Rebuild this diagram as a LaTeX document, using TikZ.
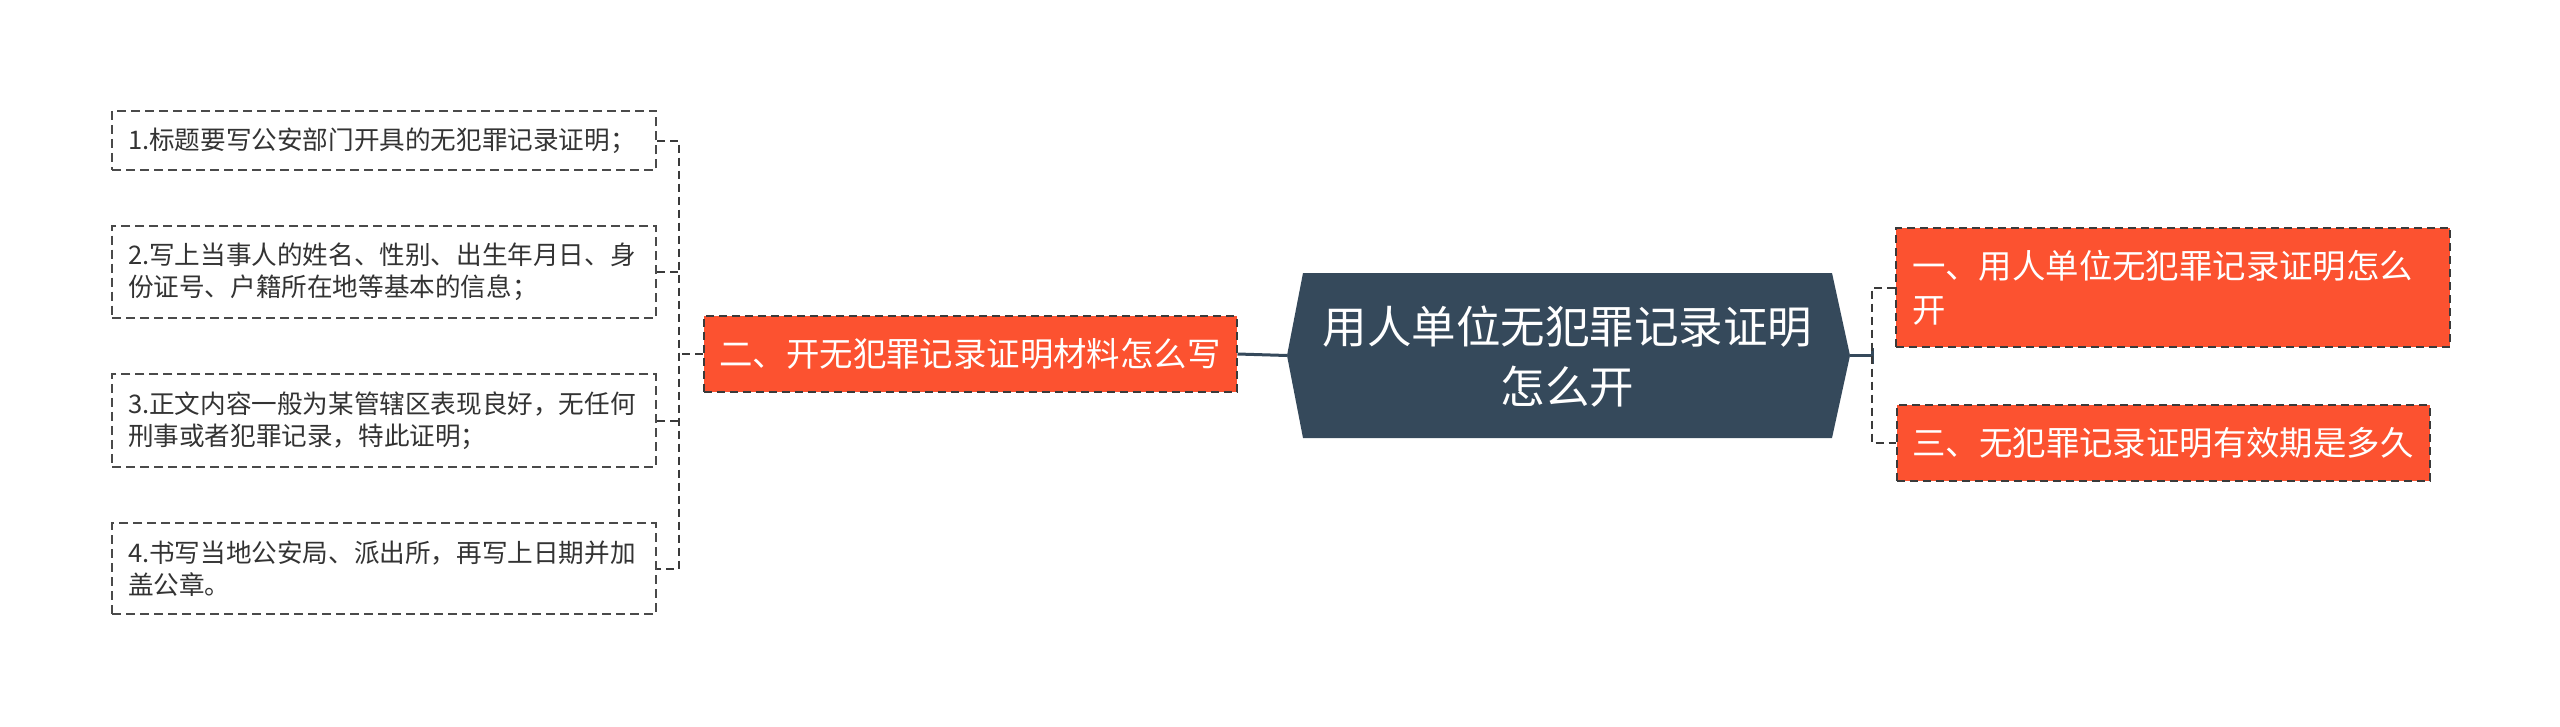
\documentclass[tikz,border=0pt]{standalone}
\usepackage{fontspec}
\setmainfont{Noto Sans CJK SC}
\usepackage{xcolor}
\usepackage{tikz}
\usetikzlibrary{positioning, backgrounds}

\definecolor{rootfill}{HTML}{35495B}
\definecolor{branchfill}{HTML}{FC5230}
\definecolor{boxline}{HTML}{3A3A3A}
\definecolor{leafline}{HTML}{4A4A4A}
\definecolor{leaftext}{HTML}{333333}

\begin{document}
\begin{tikzpicture}[x=1pt,y=-1pt,
                    root node/.style={inner sep=0pt,minimum width=529pt,minimum height=165pt,align=center,text=white,font=\fontsize{44.5}{60}\selectfont},
                    branch node/.style={draw=boxline,line width=2pt,dash pattern=on 8pt off 5pt,fill=branchfill,text=white,align=left,inner xsep=16pt,inner ysep=22.3pt,font=\fontsize{33.4}{44}\selectfont},
                    leaf node/.style={draw=leafline,line width=2pt,dash pattern=on 9pt off 5pt,text=leaftext,align=left,text width=512pt,inner xsep=16pt,inner ysep=17pt,font=\fontsize{25.6}{32.5}\selectfont},
                    main line/.style={draw=rootfill,line width=3pt},
                    dash line/.style={draw=boxline,line width=2pt,dash pattern=on 8pt off 5pt}]

 \path[fill=white] (0,0) rectangle (2560,726);

 % centre
 \coordinate (ltip) at (1287,355.5);
 \coordinate (rtip) at (1850,355.5);
 \fill[rootfill] (1303,273) -- (1832,273) -- (rtip) -- (1832,438) -- (1303,438) -- (ltip) -- cycle;
 \node[root node] (root) at (1567.5,357) {用人单位无犯罪记录证明\\怎么开};

 % right side
 \node[branch node,text width=522pt] (b1) at (2173,287.5) {一、用人单位无犯罪记录证明怎么\\开};
 \node[branch node] (b3) at (2163,443) {三、无犯罪记录证明有效期是多久};
 \coordinate (rjoin) at (1872,355.5);

 \draw[main line] (rtip) -- (rjoin);
 \draw[main line] ([yshift=-8pt]rjoin) -- ([yshift=8pt]rjoin);
 \draw[dash line] (b1.west) -- (b1.west -| rjoin) -- (b3.west -| rjoin) -- (b3.west);

 % left side
 \node[branch node] (b2) at (970,354) {二、开无犯罪记录证明材料怎么写};
 \draw[main line] (b2.east) -- (ltip);

 \node[leaf node] (1) at (384,140.5) {1.标题要写公安部门开具的无犯罪记录证明；};
 \node[leaf node] (2) at (384,272) {2.写上当事人的姓名、性别、出生年月日、身\\份证号、户籍所在地等基本的信息；};
 \node[leaf node] (3) at (384,420.5) {3.正文内容一般为某管辖区表现良好，无任何\\刑事或者犯罪记录，特此证明；};
 \node[leaf node] (4) at (384,568.5) {4.书写当地公安局、派出所，再写上日期并加\\盖公章。};
 \coordinate (ljoin) at (679,354);

 \draw[dash line] (b2.west) -- (ljoin);
 \draw[dash line] (1.east) -- (1.east -| ljoin) -- (4.east -| ljoin) -- (4.east);
 \foreach \n in {2,3}
  \draw[dash line] (\n.east) -- (\n.east -| ljoin);

\end{tikzpicture}
\end{document}
